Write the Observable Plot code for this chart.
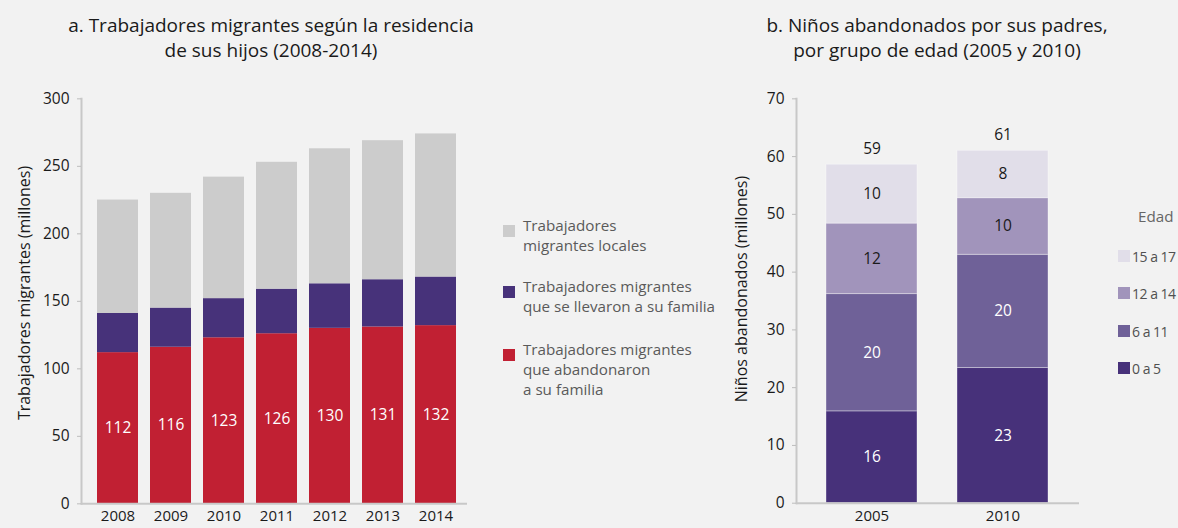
<!DOCTYPE html>
<html><head><meta charset="utf-8">
<script src="https://cdn.jsdelivr.net/npm/d3@7"></script>
<script src="https://cdn.jsdelivr.net/npm/@observablehq/plot@0.6"></script>
<style>
body{margin:0;background:#f2f2f2;}
#root{position:relative;width:1178px;height:528px;overflow:hidden;background:#f2f2f2;font-family:"Open Sans",sans-serif;}
.abs{position:absolute;white-space:nowrap;}
.title{font-size:19px;line-height:25px;color:#1a1a1a;text-align:center;transform:translateX(-50%);}
.ytitle{font-size:16px;color:#1a1a1a;transform:translate(-50%,-50%) rotate(-90deg);}
.leg{font-size:15.2px;line-height:20px;color:#5a5a5a;}
.legb{font-size:14px;line-height:20px;color:#505050;letter-spacing:-0.5px;}
.sw{position:absolute;width:12px;height:12px;}
svg{position:absolute;top:0;}
</style></head><body><div id="root"></div>
<script>
// ---- Panel a data ----
const years = ["2008","2009","2010","2011","2012","2013","2014"];
const abandonaron = [112,116,123,126,130,131,132];
const conFamilia = [29,29,29,33,33,35,36];
const locales = [84,85,90,94,100,103,106];
const seriesA = ["Trabajadores migrantes que abandonaron a su familia","Trabajadores migrantes que se llevaron a su familia","Trabajadores migrantes locales"];
const colorsA = ["#c12033","#47327a","#cccccc"];
const yTicksA = [0,50,100,150,200,250,300];

// ---- Panel b data ----
const periods = ["2005","2010"];
const edad0a5 = [15.9,23.4];
const edad6a11 = [20.3,19.6];
const edad12a14 = [12.2,9.8];
const edad15a17 = [10.2,8.2];
const ages = ["0 a 5","6 a 11","12 a 14","15 a 17"];
const colorsB = ["#47317a","#6f6198","#a194bb","#e1dee9"];
const labelColorsB = ["#ffffff","#ffffff","#1a1a1a","#1a1a1a"];
const yTicksB = [0,10,20,30,40,50,60,70];

const root = document.getElementById("root");
const FONT = "'Open Sans', sans-serif";

// ---- Panel a ----
const dataA = [];
[abandonaron, conFamilia, locales].forEach((arr,k)=>years.forEach((y,i)=>dataA.push({year:y, series:seriesA[k], value:arr[i]})));

const plotA = Plot.plot({
  width:480, height:528,
  marginTop:98.33, marginBottom:24.67, marginLeft:81, marginRight:13,
  style:{background:"transparent", fontFamily:FONT, fontSize:"15px", color:"#1a1a1a", overflow:"visible"},
  x:{domain:years, paddingInner:0.231, paddingOuter:0.234, align:0.6, axis:null},
  y:{domain:[0,300], axis:null},
  color:{domain:seriesA, range:colorsA},
  marks:[
    Plot.barY(dataA, {x:"year", y:"value", fill:"series"}),
    Plot.text(years, {x:d=>d, y:(d,i)=>abandonaron[i]/2, text:(d,i)=>String(abandonaron[i]), fill:"#ffffff", fontSize:15.5}),
    Plot.frame({anchor:"left", stroke:"#c8c8c8", strokeWidth:2}),
    Plot.ruleY([0], {stroke:"#c8c8c8", strokeWidth:2}),
    Plot.axisY({ticks:yTicksA, tickSize:4, tickPadding:8, stroke:"#bdbdbd", fill:"#1a1a1a", fontSize:15.5, tickFormat:d=>String(d), label:null}),
    Plot.axisX({tickSize:0, tickPadding:7, fill:"#1a1a1a", fontSize:15, label:null})
  ]
});
plotA.style.left = "0px";
root.appendChild(plotA);

// ---- Panel b ----
const arrsB = [edad0a5, edad6a11, edad12a14, edad15a17];
const dataB = [];
arrsB.forEach((arr,k)=>periods.forEach((p,i)=>dataB.push({period:p, age:ages[k], value:arr[i], k})));
const midsB = [];
periods.forEach((p,i)=>{
  let base = 0;
  arrsB.forEach((arr,k)=>{ midsB.push({period:p, k, mid:base+arr[i]/2, label:String(Math.round(arr[i]))}); base += arr[i]; });
});
const totalsB = periods.map((p,i)=>arrsB.reduce((s,a)=>s+a[i],0));

const plotB = Plot.plot({
  width:458, height:528,
  marginTop:98.33, marginBottom:25.3, marginLeft:76, marginRight:99,
  style:{background:"transparent", fontFamily:FONT, fontSize:"15px", color:"#1a1a1a", overflow:"visible"},
  x:{domain:periods, paddingInner:0.303, paddingOuter:0.2235, axis:null},
  y:{domain:[0,70], axis:null},
  color:{domain:ages, range:colorsB},
  marks:[
    Plot.barY(dataB, {x:"period", y:"value", fill:"age", stroke:"#ffffff", strokeOpacity:0.35, strokeWidth:1}),
    Plot.text(midsB, {x:"period", y:"mid", text:"label", fill:d=>labelColorsB[d.k], fontSize:15.5}),
    Plot.text(periods, {x:d=>d, y:(d,i)=>totalsB[i], text:(d,i)=>String(Math.round(totalsB[i])), dy:-11, lineAnchor:"bottom", fill:"#1a1a1a", fontSize:15.5}),
    Plot.frame({anchor:"left", stroke:"#c8c8c8", strokeWidth:2}),
    Plot.ruleY([0], {stroke:"#c8c8c8", strokeWidth:2}),
    Plot.axisY({ticks:yTicksB, tickSize:4, tickPadding:8, stroke:"#bdbdbd", fill:"#1a1a1a", fontSize:15.5, tickFormat:d=>String(d), label:null}),
    Plot.axisX({tickSize:0, tickPadding:7, fill:"#1a1a1a", fontSize:15, label:null})
  ]
});
plotB.style.left = "720px";
root.appendChild(plotB);

// ---- HTML text: titles, axis titles, legends ----
function addDiv(cls, html, left, top){
  const d = document.createElement("div");
  d.className = "abs " + cls;
  d.innerHTML = html;
  d.style.left = left + "px";
  d.style.top = top + "px";
  root.appendChild(d);
  return d;
}
addDiv("title", "a. Trabajadores migrantes según la residencia<br>de sus hijos (2008-2014)", 271, 13);
addDiv("title", "b. Niños abandonados por sus padres,<br>por grupo de edad (2005 y 2010)", 937, 13);
addDiv("ytitle", "Trabajadores migrantes (millones)", 24, 293);
addDiv("ytitle", "Niños abandonados (millones)", 741, 289);

// legend a (top to bottom: locales, con familia, abandonaron)
const legA = [
  {k:2, lines:["Trabajadores","migrantes locales"], top:215},
  {k:1, lines:["Trabajadores migrantes","que se llevaron a su familia"], top:276},
  {k:0, lines:["Trabajadores migrantes","que abandonaron","a su familia"], top:339}
];
legA.forEach(l=>{
  const s = addDiv("sw", "", 503, l.top+10);
  s.style.background = colorsA[l.k];
  addDiv("leg", l.lines.join("<br>"), 523, l.top);
});

// legend b
addDiv("leg", "Edad", 1138, 206).style.color = "#666666";
[3,2,1,0].forEach((k,j)=>{
  const top = 250 + j*37.3;
  const s = addDiv("sw", "", 1118, top);
  s.style.background = colorsB[k];
  const t = addDiv("legb", ages[k], 1132, top - 3);
});
</script>
</body></html>
